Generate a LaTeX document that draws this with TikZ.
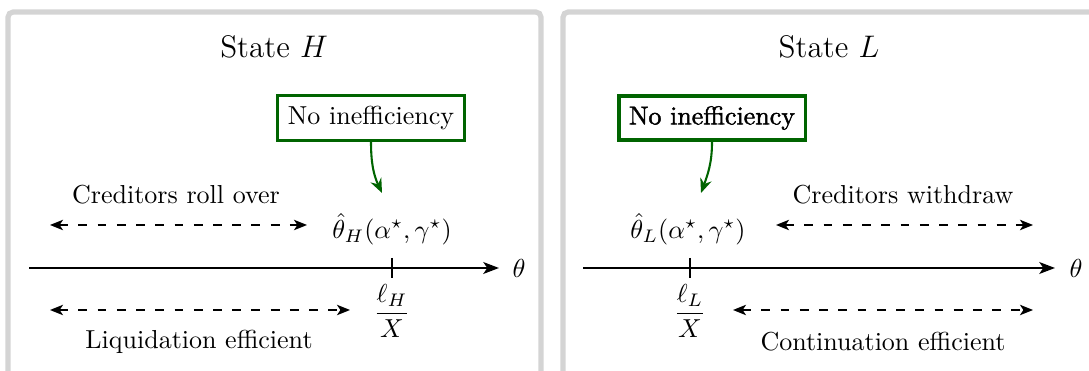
\documentclass[tikz,border=0pt]{standalone}
\usepackage{fontspec}
\usepackage{amsmath}
\newfontfamily\fakebf[FakeBold=1.6]{Latin Modern Roman}
\usetikzlibrary{arrows.meta}
\definecolor{framegray}{RGB}{212,212,212}
\definecolor{dkgreen}{RGB}{0,100,0}
\tikzset{
  panel/.style={draw=framegray, line width=2pt, rounded corners=2pt},
  title/.style={font=\large},
  ineff/.style={draw=dkgreen, line width=1.2pt, fill=white, inner sep=4pt},
  ineffbold/.style={draw=dkgreen, line width=1.5pt, fill=white, inner sep=4pt, font=\fakebf},
  greenarrow/.style={draw=dkgreen, line width=0.8pt, -{Stealth[length=5.5pt,width=4.5pt]}},
  axis/.style={line width=1pt, -{Stealth[length=6pt,width=4.5pt,inset=1.5pt]}},
  tickmark/.style={line width=0.8pt},
  mathlabel/.style={inner sep=1pt},
  dashedarrow/.style={dash pattern=on 3.4pt off 4pt, line width=0.6pt, {Stealth[length=5pt,width=4pt,inset=1.3pt]}-{Stealth[length=5pt,width=4pt,inset=1.3pt]}},
}
\begin{document}
\begin{tikzpicture}[x=0.3846pt,y=-0.3846pt]
\useasboundingbox (0,0) rectangle (1089,371);
\clip (0,0) rectangle (1089,371);
% panels
\draw[panel] (8,12) rectangle (541,420);
\draw[panel] (563,12) rectangle (1140,420);

% ---------- State H ----------
\node[title] (tH) at (274,47) {State $H$};
\coordinate (aHl) at (29,268);
\coordinate (aHr) at (499,268);
\draw[axis] (aHl) -- (aHr);
\node[anchor=west, inner sep=2pt] (thetaH) at (507,268) {$\theta$};
\coordinate (tkH) at (392,268);
\draw[tickmark] (tkH) ++(0,-10) -- ++(0,20);
\node[mathlabel] (hatH) at (392,229) {$\hat{\theta}_H(\alpha^{\star},\gamma^{\star})$};
\node[mathlabel] (fracH) at (392,311) {$\dfrac{\ell_H}{X}$};
\node[ineff] (nH) at (371,118) {No inefficiency};
\coordinate (pH) at (382,193);
\draw[greenarrow] (nH.south) to[out=-90,in=115] (pH);
\coordinate (rH1) at (50,225);
\coordinate (rH2) at (307,225);
\draw[dashedarrow] (rH1) -- (rH2);
\node (crH) at (176,195) {Creditors roll over};
\coordinate (lH1) at (50,310);
\coordinate (lH2) at (350,310);
\draw[dashedarrow] (lH1) -- (lH2);
\node (liqH) at (199,342) {Liquidation efficient};

% ---------- State L ----------
\node[title] (tL) at (829,47) {State $L$};
\coordinate (aLl) at (583,268);
\coordinate (aLr) at (1055,268);
\draw[axis] (aLl) -- (aLr);
\node[anchor=west, inner sep=2pt] (thetaL) at (1064,268) {$\theta$};
\coordinate (tkL) at (690,268);
\draw[tickmark] (tkL) ++(0,-10) -- ++(0,20);
\node[mathlabel] (hatL) at (688,229) {$\hat{\theta}_L(\alpha^{\star},\gamma^{\star})$};
\node[mathlabel] (fracL) at (690,311) {$\dfrac{\ell_L}{X}$};
\node[ineffbold] (nL) at (712,118) {No inefficiency};
\coordinate (pL) at (701,193);
\draw[greenarrow] (nL.south) to[out=-90,in=70] (pL);
\coordinate (wL1) at (776,225);
\coordinate (wL2) at (1033,225);
\draw[dashedarrow] (wL1) -- (wL2);
\node (crL) at (903,195) {Creditors withdraw};
\coordinate (cL1) at (733,310);
\coordinate (cL2) at (1033,310);
\draw[dashedarrow] (cL1) -- (cL2);
\node (conL) at (883,342) {Continuation efficient};
\end{tikzpicture}
\end{document}
